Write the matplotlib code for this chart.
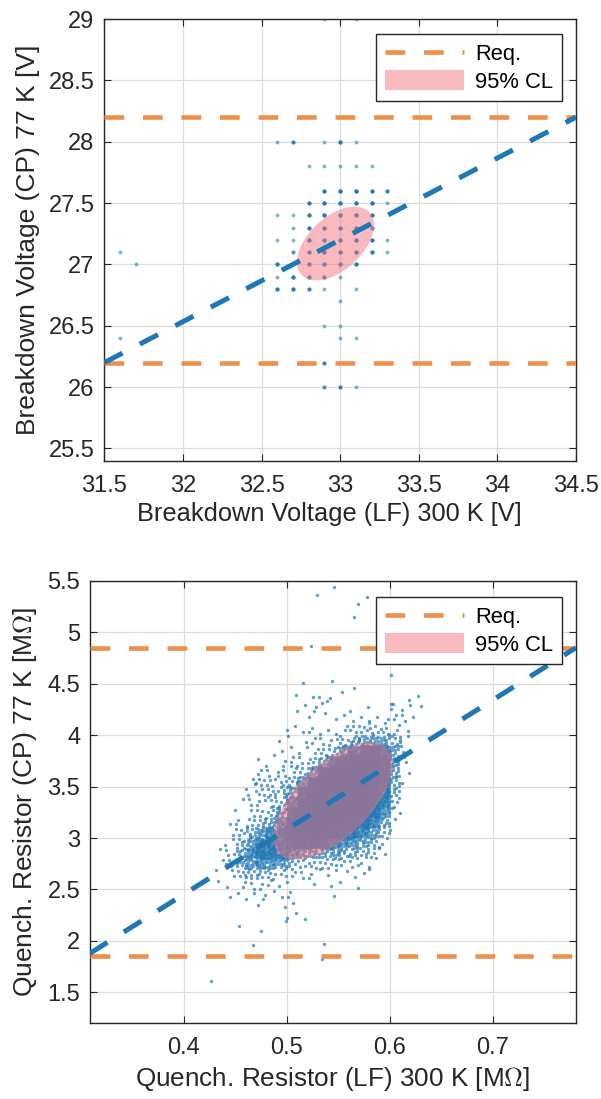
import numpy as np
import matplotlib
matplotlib.use('Agg')
import matplotlib.pyplot as plt
from matplotlib.patches import Patch, Polygon
from matplotlib.lines import Line2D

plt.rcParams['font.family'] = ['Liberation Sans', 'DejaVu Sans']
plt.rcParams['mathtext.fontset'] = 'cm'

BLUE = '#1f77b4'
ORANGE = '#EF904A'
PINK = '#F37581'

# ---- top panel: breakdown voltage (values on a 0.1 V grid, n = repeats)
bv_lf = [32.6, 32.7, 32.9, 33.0, 33.1,
         32.8, 32.9, 33.0, 33.1, 33.2,
         32.9, 33.0, 33.1, 33.2, 33.3,
         32.8, 32.9, 33.0, 33.1, 33.2, 33.3,
         32.6, 32.7, 32.8, 32.9, 33.0, 33.1, 33.2,
         32.7, 32.8, 32.9, 33.0, 33.1, 33.2,
         32.6, 32.7, 32.8, 32.9, 33.0, 33.1, 33.2, 33.3,
         32.7, 32.8, 32.9, 33.0, 33.1, 33.2, 33.3,
         32.6, 32.8, 32.9, 33.0, 33.1,
         32.6, 32.7, 32.8, 32.9, 33.0,
         32.6, 32.7, 32.8, 32.9, 33.1,
         33.0, 32.9, 33.0, 33.0, 33.1, 32.9,
         32.9, 33.0, 33.1,
         31.6, 31.7, 31.6, 32.9, 33.1]
bv_cp = [28.0, 28.0, 28.0, 28.0, 28.0,
         27.8, 27.8, 27.8, 27.8, 27.8,
         27.6, 27.6, 27.6, 27.6, 27.6,
         27.5, 27.5, 27.5, 27.5, 27.5, 27.5,
         27.4, 27.4, 27.4, 27.4, 27.4, 27.4, 27.4,
         27.3, 27.3, 27.3, 27.3, 27.3, 27.3,
         27.2, 27.2, 27.2, 27.2, 27.2, 27.2, 27.2, 27.2,
         27.1, 27.1, 27.1, 27.1, 27.1, 27.1, 27.1,
         27.0, 27.0, 27.0, 27.0, 27.0,
         26.9, 26.9, 26.9, 26.9, 26.9,
         26.8, 26.8, 26.8, 26.8, 26.8,
         26.7, 26.5, 26.5, 26.4, 26.4, 26.2,
         26.0, 26.0, 26.0,
         27.1, 27.0, 26.4, 29.0, 29.0]
bv_n = [1, 3, 1, 4, 1,
        1, 1, 1, 1, 1,
        4, 5, 5, 4, 3,
        4, 5, 5, 5, 5, 1,
        1, 1, 4, 5, 5, 5, 4,
        1, 4, 5, 5, 5, 3,
        1, 1, 5, 5, 5, 5, 4, 1,
        2, 4, 5, 5, 5, 4, 1,
        4, 4, 5, 4, 4,
        1, 4, 4, 4, 1,
        4, 4, 3, 1, 1,
        1, 1, 1, 1, 1, 3,
        2, 3, 1,
        1, 1, 1, 1, 1]
bv_req = [26.2, 28.2]
bv_fit = ([31.5, 34.5], [26.2, 28.2])
bv_mean = [32.97, 27.17]
bv_sd = [0.10, 0.1225]
bv_rho = 0.5

# ---- bottom panel: quench resistor
# dense part as counts per cell (x: 0.01 MOhm from 0.43, y: 0.1 MOhm from 4.4 down)
qr_xedges = np.round(np.arange(0.43, 0.6301, 0.01), 3)
qr_yedges = np.round(np.arange(4.4, 2.199, -0.1), 2)
qr_counts = [
    [0, 0, 0, 0, 0, 0, 0, 1, 0, 1, 3, 1, 0, 0, 0, 0, 0, 1, 1, 1],
    [0, 0, 0, 0, 0, 0, 0, 0, 2, 2, 1, 0, 0, 1, 1, 0, 0, 2, 2, 1],
    [0, 0, 0, 0, 0, 0, 0, 0, 0, 1, 0, 1, 1, 1, 2, 2, 2, 2, 2, 1],
    [0, 0, 0, 0, 0, 0, 1, 1, 1, 2, 1, 2, 2, 3, 4, 4, 4, 3, 1, 0],
    [0, 0, 0, 0, 0, 0, 1, 1, 1, 2, 2, 3, 5, 8, 10, 12, 10, 6, 2, 0],
    [0, 0, 0, 0, 0, 1, 1, 1, 2, 2, 3, 5, 15, 30, 40, 40, 30, 10, 2, 0],
    [0, 0, 0, 0, 1, 1, 2, 2, 2, 4, 10, 30, 40, 50, 50, 50, 40, 12, 2, 0],
    [0, 0, 0, 0, 2, 2, 3, 3, 4, 12, 40, 50, 55, 55, 55, 50, 40, 10, 1, 0],
    [0, 0, 0, 2, 4, 4, 4, 5, 15, 40, 50, 55, 55, 55, 55, 50, 35, 8, 1, 0],
    [0, 0, 0, 2, 4, 5, 5, 10, 35, 50, 55, 55, 55, 55, 55, 50, 30, 6, 0, 0],
    [0, 0, 1, 2, 3, 4, 6, 20, 45, 55, 55, 55, 55, 55, 55, 45, 25, 4, 0, 0],
    [0, 0, 1, 2, 3, 5, 10, 35, 50, 55, 55, 55, 55, 55, 50, 35, 15, 2, 0, 0],
    [0, 1, 2, 4, 6, 10, 20, 45, 55, 55, 55, 55, 55, 50, 35, 20, 8, 1, 0, 0],
    [0, 1, 4, 8, 14, 20, 30, 45, 55, 55, 55, 50, 40, 30, 20, 12, 5, 0, 0, 0],
    [0, 2, 6, 12, 25, 30, 30, 35, 45, 45, 40, 25, 18, 14, 10, 6, 2, 0, 0, 0],
    [1, 3, 8, 20, 30, 30, 25, 18, 12, 12, 10, 10, 8, 8, 6, 3, 1, 0, 0, 0],
    [1, 3, 8, 14, 18, 15, 10, 6, 4, 4, 4, 4, 3, 3, 2, 1, 0, 0, 0, 0],
    [1, 2, 4, 6, 6, 5, 3, 2, 2, 2, 1, 2, 1, 1, 1, 0, 0, 0, 0, 0],
    [1, 1, 2, 2, 2, 2, 1, 1, 0, 1, 0, 1, 1, 1, 0, 0, 0, 0, 0, 0],
    [0, 1, 1, 2, 2, 1, 1, 2, 0, 0, 0, 1, 0, 0, 0, 0, 0, 0, 0, 0],
    [0, 0, 0, 0, 1, 0, 1, 1, 0, 0, 0, 0, 0, 0, 0, 0, 0, 0, 0, 0],
    [0, 0, 0, 0, 0, 0, 0, 1, 1, 0, 0, 0, 0, 0, 0, 0, 0, 0, 0, 0],
]
# isolated points outside the gridded area
qr_out_lf = [0.546, 0.529, 0.578, 0.569, 0.565, 0.524, 0.601, 0.516, 0.544,
             0.565, 0.554, 0.426, 0.4675, 0.475, 0.534, 0.536, 0.499, 0.5,
             0.454]
qr_out_cp = [5.44, 5.36, 5.34, 5.27, 5.15, 4.87, 4.58, 4.51, 4.53,
             4.46, 4.42, 1.61, 1.96, 2.10, 1.82, 1.97, 2.19, 2.22,
             2.15]
qr_req = [1.85, 4.85]
qr_fit = ([0.309, 0.781], [1.88, 4.85])
qr_mean = [0.545, 3.36]
qr_sd = [0.0237, 0.233]
qr_rho = 0.62


def cell_points(xedges, yedges, counts):
    # spread each cell's count evenly inside the cell
    a1, a2 = 0.7548776662, 0.5698402910
    xs, ys = [], []
    for i, row in enumerate(counts):
        y_top, y_bot = yedges[i], yedges[i + 1]
        for j, n in enumerate(row):
            x0, x1 = xedges[j], xedges[j + 1]
            k = np.arange(1, n + 1) + 7 * i + 13 * j
            u = (0.5 + k * a1) % 1
            v = (0.5 + k * a2) % 1
            xs.extend(x0 + u * (x1 - x0))
            ys.extend(y_bot + v * (y_top - y_bot))
    return np.array(xs), np.array(ys)


def conf_ellipse(mean, sd, rho, chi2=5.991):
    cov = np.array([[sd[0]**2, rho*sd[0]*sd[1]], [rho*sd[0]*sd[1], sd[1]**2]])
    w, v = np.linalg.eigh(cov)
    t = np.linspace(0, 2*np.pi, 200)
    circ = np.vstack([np.cos(t), np.sin(t)])
    pts = v @ (np.sqrt(chi2 * w)[:, None] * circ)
    return np.column_stack([pts[0] + mean[0], pts[1] + mean[1]])


def style_axes(ax):
    ax.grid(True, color='#dcdcdc', lw=0.9)
    ax.set_axisbelow(True)
    ax.tick_params(direction='in', top=True, right=True, length=5,
                   labelsize=17, colors='#262626')
    ax.tick_params(axis='x', pad=10)
    ax.tick_params(axis='y', pad=7)
    for s in ax.spines.values():
        s.set_color('#262626')
        s.set_linewidth(1.0)


def add_legend(ax, anchor):
    h = [Line2D([], [], color=ORANGE, lw=3.3, ls=(0, (4.3, 4.1))),
         Patch(facecolor=PINK, alpha=0.5, edgecolor='none')]
    leg = ax.legend(h, ['Req.', '95% CL'], loc='upper right',
                    bbox_to_anchor=anchor, borderaxespad=0, fontsize=15.8,
                    fancybox=False, framealpha=1, edgecolor='#262626',
                    handlelength=3.6, handleheight=1.0, borderpad=0.4,
                    labelspacing=0.22, handletextpad=0.5)
    leg.get_frame().set_linewidth(1.0)


fig = plt.figure(figsize=(6.01, 10.99), dpi=100)

# top
ax1 = fig.add_axes([0.1736, 0.5808, 0.7848, 0.4019])
style_axes(ax1)
ax1.scatter(np.repeat(bv_lf, bv_n), np.repeat(bv_cp, bv_n), s=8,
            color=BLUE, alpha=0.55, lw=0, zorder=2)
for r in bv_req:
    ax1.axhline(r, color=ORANGE, lw=3.3, ls=(0, (4.3, 4.1)), zorder=3)
ax1.plot(bv_fit[0], bv_fit[1], color=BLUE, lw=3.6, ls=(0, (4.1, 3.9)),
         zorder=5)
ax1.add_patch(Polygon(conf_ellipse(bv_mean, bv_sd, bv_rho), closed=True,
                      facecolor=PINK, alpha=0.5, edgecolor='none', zorder=4))
ax1.set_xlim(31.5, 34.5)
ax1.set_ylim(25.4, 29)
ax1.set_xticks(np.arange(31.5, 34.51, 0.5))
ax1.set_yticks(np.arange(25.5, 29.01, 0.5))
ax1.set_xticklabels(['31.5', '32', '32.5', '33', '33.5', '34', '34.5'])
ax1.set_yticklabels(['25.5', '26', '26.5', '27', '27.5', '28', '28.5', '29'])
ax1.set_xlabel('Breakdown Voltage (LF) 300 K [V]', fontsize=18.3,
               color='#262626', labelpad=4)
ax1.xaxis.label.set_x(0.478)
ax1.set_ylabel('Breakdown Voltage (CP) 77 K [V]', fontsize=19,
               color='#262626', labelpad=6)
add_legend(ax1, (0.9697, 0.9654))

# bottom
ax2 = fig.add_axes([0.1498, 0.0689, 0.8087, 0.4027])
style_axes(ax2)
cx, cy = cell_points(qr_xedges, qr_yedges, qr_counts)
cx = np.concatenate([cx, qr_out_lf])
cy = np.concatenate([cy, qr_out_cp])
ax2.scatter(cx, cy, s=6, color=BLUE, alpha=0.7, lw=0, zorder=2)
for r in qr_req:
    ax2.axhline(r, color=ORANGE, lw=3.3, ls=(0, (4.3, 4.1)), zorder=3)
ax2.plot(qr_fit[0], qr_fit[1], color=BLUE, lw=3.6, ls=(0, (4.1, 3.9)),
         zorder=5)
ax2.add_patch(Polygon(conf_ellipse(qr_mean, qr_sd, qr_rho), closed=True,
                      facecolor=PINK, alpha=0.5, edgecolor='none', zorder=4))
ax2.set_xlim(0.309, 0.781)
ax2.set_ylim(1.2, 5.5)
ax2.set_xticks([0.4, 0.5, 0.6, 0.7])
ax2.set_yticks(np.arange(1.5, 5.51, 0.5))
ax2.set_yticklabels(['1.5', '2', '2.5', '3', '3.5', '4', '4.5', '5', '5.5'])
ax2.set_xlabel(r'Quench. Resistor (LF) 300 K [M$\Omega$]', fontsize=18.8,
               color='#262626', labelpad=4)
ax2.set_ylabel(r'Quench. Resistor (CP) 77 K [M$\Omega$]', fontsize=19,
               color='#262626', labelpad=6)
add_legend(ax2, (0.9706, 0.9625))

fig.savefig('out.png', dpi=100)
